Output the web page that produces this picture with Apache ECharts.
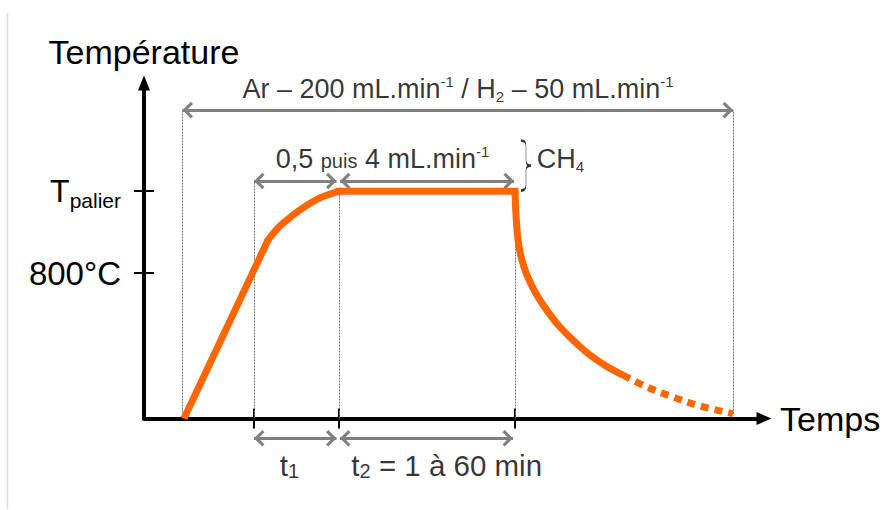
<!DOCTYPE html>
<html><head><meta charset="utf-8">
<script src="https://cdn.jsdelivr.net/npm/echarts@6/dist/echarts.min.js"></script>
<style>html,body{margin:0;padding:0;background:#fff}#c{width:882px;height:510px}</style>
</head><body><div id="c"></div>
<script>
// ---------------- data (arbitrary time units, temperature in °C) ----------------
const phaseTimes = [3.85, 11.0, 19.5, 37.1, 58.9];   // gas on, t1 start, t2 start, t2 end, gas off
const xTickValues = [11.0, 19.5, 37.1];
const yTickValues = [800, 1250];
const yTickLabels = ['800°C', 'Tpalier'];
const rampTime = [4.0, 12.4];
const rampTemp = [0, 981];
const approachTime = [12.4, 13.4, 14.3, 15.9, 17.6, 19.6];
const approachTemp = [981, 1048, 1092, 1158, 1213, 1250];
const plateauTime = [19.5, 37.1];
const plateauTemp = [1250, 1250];
const coolTime = [37.1, 37.2, 37.35, 37.6, 38.0, 38.6, 39.4, 40.4, 41.6, 43.1, 44.6, 46.2, 47.9];
const coolTemp = [1250, 1119, 1009, 916, 833, 751, 668, 586, 503, 421, 349, 289, 239];
const tailTime = [47.9, 50.3, 52.9, 55.6, 58.9];
const tailTemp = [239, 173, 118, 69, 27];

// ---------------- layout ----------------
const FONT = '"Liberation Sans", Arial, sans-serif';
const ORANGE = '#FF6600', GREY = '#808080';
const levelTop = 1696, levelMid = 1306, levelBottom = -109;
const pair = (xs, ys) => xs.map((x, i) => [x, ys[i]]);

const chev = 'path://M0,0 L8,8 L5.88,10.12 L0,4.24 L-5.88,10.12 L-8,8 Z M-10.12,-10.12 h0.01 v0.01 z M10.12,10.12 h-0.01 v-0.01 z';
const brace = 'path://M0,0 C4,0 5,2 5,6 L5,20 C5,23 6,25 10,25 C6,25 5,27 5,30 L5,44 C5,48 4,50 0,50';

const rich = {
  a: {fontSize: 27, fontFamily: FONT, color: '#000', lineHeight: 30},
  s: {fontSize: 20, fontFamily: FONT, color: '#000', lineHeight: 22, padding: [4, 0, 0, 0]},
  sup: {fontSize: 15, fontFamily: FONT, color: '#000', lineHeight: 16, verticalAlign: 'top'},
  sub: {fontSize: 15, fontFamily: FONT, color: '#000', lineHeight: 14, verticalAlign: 'bottom'},
  b: {fontSize: 29.5, fontFamily: FONT, color: '#000', lineHeight: 32},
  bsub: {fontSize: 20, fontFamily: FONT, color: '#000', lineHeight: 12, verticalAlign: 'bottom'}
};

const p = phaseTimes;
const curveLine = (xs, ys, extra) => Object.assign({
  type: 'line', data: pair(xs, ys), symbol: 'none', clip: false, silent: true, z: 5
}, extra);

const option = {
  animation: false,
  backgroundColor: '#fff',
  grid: {left: 144, right: 118, top: 83, bottom: 91.5, containLabel: false, outerBoundsMode: 'none'},
  graphic: [{type: 'line', shape: {x1: 7.5, y1: 13, x2: 7.5, y2: 509}, style: {stroke: '#dcdcdc', lineWidth: 1.5}, silent: true}],
  xAxis: [{
    type: 'value', min: 0, max: 62,
    axisLine: {show: true, onZero: true, symbol: ['none', 'triangle'], symbolSize: [13, 15], lineStyle: {color: '#000', width: 4}},
    axisTick: {show: true, customValues: xTickValues, length: 10, lineStyle: {color: '#000', width: 2}},
    axisLabel: {show: false}, splitLine: {show: false},
    name: 'Temps', nameLocation: 'end', nameGap: 16, nameMoveOverlap: false,
    nameTextStyle: {fontSize: 34, fontFamily: FONT, color: '#000', padding: [6, 0, 0, 0]}
  }, {
    type: 'value', min: 0, max: 62, position: 'bottom',
    axisLine: {show: false},
    axisTick: {show: true, inside: true, customValues: xTickValues, length: 10, lineStyle: {color: '#000', width: 2}},
    axisLabel: {show: false}, splitLine: {show: false}
  }],
  yAxis: [{
    type: 'value', min: 0, max: 1845,
    axisLine: {show: true, symbol: ['none', 'triangle'], symbolSize: [12, 15], lineStyle: {color: '#000', width: 4}},
    axisTick: {show: true, customValues: yTickValues, length: 10, lineStyle: {color: '#000', width: 2}},
    axisLabel: {
      show: true, customValues: yTickValues, margin: 23,
      formatter: v => {
        const lab = yTickLabels[yTickValues.indexOf(v)];
        return lab === 'Tpalier' ? '{T|T}{p|palier}' : '{n|' + lab + '}';
      },
      rich: {
        T: {fontSize: 32, fontFamily: FONT, color: '#000', lineHeight: 40},
        p: {fontSize: 21, fontFamily: FONT, color: '#000', lineHeight: 14, verticalAlign: 'bottom'},
        n: {fontSize: 33, fontFamily: FONT, color: '#000', lineHeight: 36}
      }
    },
    splitLine: {show: false},
    name: 'Température', nameLocation: 'end', nameGap: 14, nameMoveOverlap: false,
    nameTextStyle: {fontSize: 34, fontFamily: FONT, color: '#000', align: 'center'}
  }, {
    type: 'value', min: 0, max: 1845, position: 'left',
    axisLine: {show: false},
    axisTick: {show: true, inside: true, customValues: yTickValues, length: 10, lineStyle: {color: '#000', width: 2}},
    axisLabel: {show: false}, splitLine: {show: false}
  }],
  series: [
    { // dotted guides
      type: 'lines', coordinateSystem: 'cartesian2d', clip: false, silent: true, z: 1,
      symbol: 'none',
      lineStyle: {color: '#777', width: 1, type: [2, 1], opacity: 1},
      data: [
        {coords: [[p[0], 0], [p[0], levelTop]]},
        {coords: [[p[1], 0], [p[1], levelMid]]},
        {coords: [[p[2], 0], [p[2], plateauTemp[0]]]},
        {coords: [[p[3], 0], [p[3], plateauTemp[1]]]},
        {coords: [[p[4], tailTemp[tailTemp.length - 1]], [p[4], levelTop]]}
      ]
    },
    { // grey double arrows
      type: 'lines', coordinateSystem: 'cartesian2d', clip: false, silent: true, z: 4,
      symbol: [chev, chev], symbolSize: 21,
      lineStyle: {color: GREY, width: 3, opacity: 1},
      itemStyle: {color: GREY},
      data: [
        {coords: [[p[0], levelTop], [p[4], levelTop]]},
        {coords: [[p[1], levelMid], [p[2] - 0.25, levelMid]]},
        {coords: [[p[2] + 0.1, levelMid], [p[3] - 0.1, levelMid]]},
        {coords: [[p[1], levelBottom], [p[2] - 0.25, levelBottom]]},
        {coords: [[p[2] + 0.1, levelBottom], [p[3] - 0.2, levelBottom]]}
      ]
    },
    curveLine(rampTime, rampTemp, {lineStyle: {color: ORANGE, width: 7, cap: 'butt'}}),
    curveLine(approachTime, approachTemp, {smooth: 0.4, lineStyle: {color: ORANGE, width: 7, cap: 'round'}}),
    curveLine(plateauTime, plateauTemp, {lineStyle: {color: ORANGE, width: 7, cap: 'square'}}),
    curveLine(coolTime, coolTemp, {smooth: 0.4, lineStyle: {color: ORANGE, width: 7, cap: 'butt', join: 'round'}}),
    curveLine(tailTime, tailTemp, {smooth: 0.4, lineStyle: {color: ORANGE, width: 7, cap: 'butt', type: [8, 6]}}),
    { // brace for CH4
      type: 'scatter', clip: false, silent: true, z: 6,
      symbol: brace, symbolSize: [10, 50], symbolKeepAspect: false,
      itemStyle: {color: 'rgba(0,0,0,0)', borderColor: '#000', borderWidth: 1.2},
      data: [[38.2, 1391]]
    },
    { // text annotations
      type: 'scatter', clip: false, silent: true, z: 7, symbolSize: 0,
      label: {show: true, position: 'inside', rich: rich, color: '#000'},
      data: [
        {value: [31.4, 1810], label: {formatter: '{a|Ar – 200 mL.min}{sup|-1}{a| / H}{sub|2}{a| – 50 mL.min}{sup|-1}'}},
        {value: [23.85, 1425], label: {formatter: '{a|0,5 }{s|puis}{a| 4 mL.min}{sup|-1}'}},
        {value: [39.27, 1425], label: {position: 'right', distance: 0, formatter: '{a|CH}{sub|4}'}},
        {value: [14.55, -257], label: {formatter: '{b|t}{bsub|1}'}},
        {value: [30.27, -257], label: {formatter: '{b|t}{bsub|2}{b| = 1 à 60 min}'}}
      ]
    }
  ]
};
const chart = echarts.init(document.getElementById('c'), null, {renderer: 'svg', width: 882, height: 510});
chart.setOption(option);
</script>
</body></html>
